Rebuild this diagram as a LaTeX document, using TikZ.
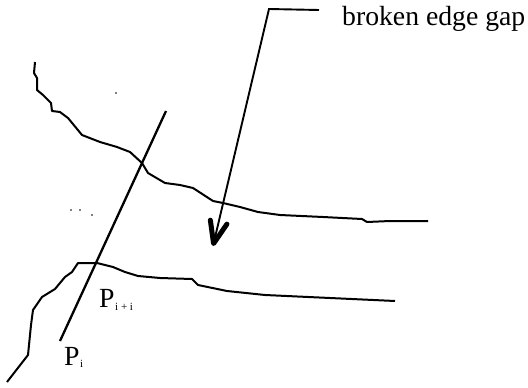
\documentclass[tikz,border=0pt]{standalone}
\usepackage{fontspec}
\setmainfont{Liberation Serif}
\usepackage{tikz}
\usetikzlibrary{arrows.meta,positioning}

\begin{document}
\begin{tikzpicture}[x=1pt, y=-1pt]
    \tikzstyle{edgeline} = [line width=2pt, black, line join=round]
    \tikzstyle{scanline} = [line width=2.3pt, black]
    \tikzstyle{darrow} = [line width=1.9pt, black, -{Straight Barb[length=22pt, width=17pt, line width=5pt, round]}]
    \tikzstyle{biglabel} = [anchor=base west, inner sep=0pt, font=\fontsize{27.7}{28}\selectfont]
    \tikzstyle{sublabel} = [anchor=base west, inner sep=0pt, font=\fontsize{11}{11}\selectfont]

    \useasboundingbox (0, 0) rectangle (528, 388);

    % Upper and lower edges
    \draw[edgeline] (35, 62) -- (34, 73) -- (37, 78) -- (37, 90) -- (43, 95) -- (51, 103) -- (52, 111) -- (60, 112) -- (68, 118) -- (82, 135) -- (100, 142) -- (117, 147) -- (130, 152) -- (142, 163) -- (148, 173) -- (165, 183) -- (180, 185) -- (193, 188) -- (213, 201) -- (223, 203) -- (240, 207) -- (258, 212) -- (280, 215) -- (323, 217) -- (362, 219) -- (367, 222) -- (390, 221) -- (428, 221);
    \draw[edgeline] (7, 382) -- (28, 355) -- (31, 325) -- (33, 310) -- (42, 297) -- (55, 289) -- (65, 277) -- (72, 272) -- (78, 263) -- (97, 263) -- (113, 267) -- (125, 272) -- (138, 276) -- (160, 278) -- (192, 279) -- (198, 285) -- (227, 291) -- (265, 295) -- (395, 301);

    \coordinate (scantop) at (166, 111);
    \coordinate (scanend) at (60, 341);
    \draw[scanline] (scantop) -- (scanend);

    \node[biglabel] (gaplabel) at (342, 25) {broken edge gap};
    \node[biglabel] (pnext) at (99, 307) {P};
    \node[sublabel] (pnextsub) at (115, 310) {i + i};
    \node[biglabel] (pcur) at (64, 365) {P};
    \node[sublabel] (pcursub) at (80, 367) {i};

    % Leader to the gap
    \coordinate (leadstart) at (319, 10);
    \coordinate (leadbend) at (269, 9);
    \coordinate (leadtip) at (213, 246);
    \draw[darrow] (leadstart) -- (leadbend) -- (leadtip);

    % Specks
    \foreach \px/\py in {116/93, 71/210, 80/210, 92/215}
        \fill (\px, \py) circle (0.9pt);
\end{tikzpicture}
\end{document}
